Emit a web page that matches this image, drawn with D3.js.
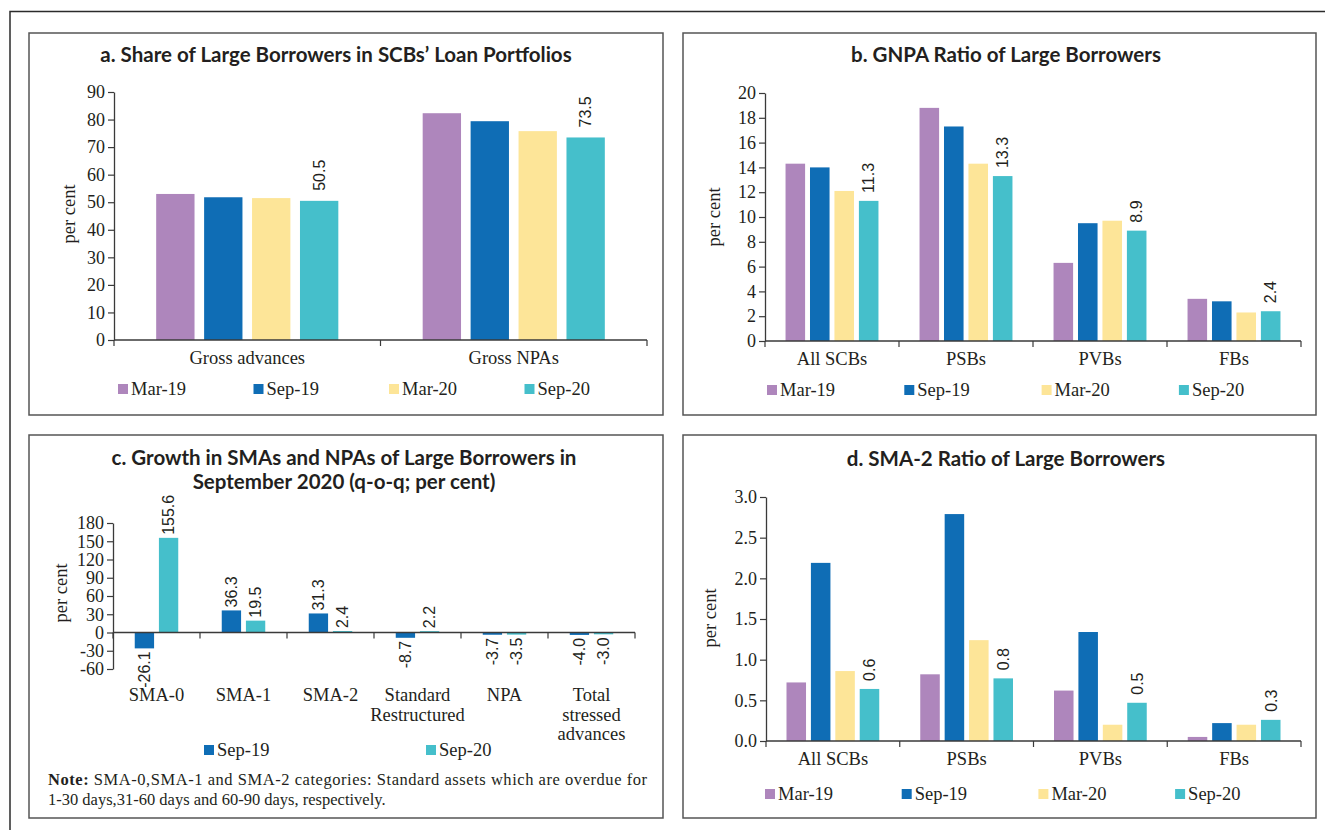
<!DOCTYPE html>
<html>
<head>
<meta charset="utf-8">
<script src="https://cdn.jsdelivr.net/npm/d3@7"></script>
<style>
  body { margin: 0; background: #ffffff; }
  svg { display: block; }
</style>
</head>
<body>
<svg id="chart" width="1325" height="830"></svg>
<script>
// ---- data ----
const seriesNames = ["Mar-19", "Sep-19", "Mar-20", "Sep-20"];

// a. Share of large borrowers in loan portfolios (per cent)
const portfolioCats = ["Gross advances", "Gross NPAs"];
const shareMar19 = [53.0, 82.3];
const shareSep19 = [51.8, 79.4];
const shareMar20 = [51.5, 75.8];
const shareSep20 = [50.5, 73.5];
const shareTicks = [0, 10, 20, 30, 40, 50, 60, 70, 80, 90];

// b. GNPA ratio of large borrowers (per cent)
const bankGroups = ["All SCBs", "PSBs", "PVBs", "FBs"];
const gnpaMar19 = [14.3, 18.8, 6.3, 3.4];
const gnpaSep19 = [14.0, 17.3, 9.5, 3.2];
const gnpaMar20 = [12.1, 14.3, 9.7, 2.3];
const gnpaSep20 = [11.3, 13.3, 8.9, 2.4];
const gnpaTicks = [0, 2, 4, 6, 8, 10, 12, 14, 16, 18, 20];

// c. q-o-q growth in SMAs and NPAs (per cent)
const growthSeries = ["Sep-19", "Sep-20"];
const stressCats = ["SMA-0", "SMA-1", "SMA-2", "Standard Restructured", "NPA", "Total stressed advances"];
const stressCatLines = [["SMA-0"], ["SMA-1"], ["SMA-2"], ["Standard", "Restructured"], ["NPA"], ["Total", "stressed", "advances"]];
const growthSep19 = [-26.1, 36.3, 31.3, -8.7, -3.7, -4.0];
const growthSep20 = [155.6, 19.5, 2.4, 2.2, -3.5, -3.0];
const growthTicks = [-60, -30, 0, 30, 60, 90, 120, 150, 180];

// d. SMA-2 ratio of large borrowers (per cent)
const sma2Mar19 = [0.72, 0.82, 0.62, 0.05];
const sma2Sep19 = [2.19, 2.79, 1.34, 0.22];
const sma2Mar20 = [0.86, 1.24, 0.20, 0.20];
const sma2Sep20 = [0.64, 0.77, 0.47, 0.26];
const sma2Ticks = [0, 0.5, 1.0, 1.5, 2.0, 2.5, 3.0];

const noteLines = ["SMA-0,SMA-1 and SMA-2 categories: Standard assets which are overdue for",
                   "1-30 days,31-60 days and 60-90 days, respectively."];

// ---- styles ----
const colour = d3.scaleOrdinal()
  .domain(seriesNames)
  .range(["#ae86bc", "#0f6db5", "#fde598", "#45bfcb"]);

const SERIF = "'Liberation Serif', 'DejaVu Serif', serif";
const TITLE = "Lato, 'Noto Sans', sans-serif";
const LABEL = "'Liberation Sans Narrow', 'Liberation Sans', sans-serif";
const INK = "#231f20";
const AXIS = "#3a3a3a";

// plain hyphen-minus for negatives
const fmt = spec => { const f = d3.format(spec); return v => f(v).replace("\u2212", "-"); };

const svg = d3.select("#chart");

// outer frame: top and left rules
svg.append("path")
  .attr("d", "M10,830 V11.5 H1325")
  .attr("fill", "none").attr("stroke", "#2b2b2b").attr("stroke-width", 1.5);

function drawPanel(cfg) {
  const g = svg.append("g");

  // panel frame
  g.append("rect")
    .attr("x", cfg.box[0]).attr("y", cfg.box[1])
    .attr("width", cfg.box[2] - cfg.box[0]).attr("height", cfg.box[3] - cfg.box[1])
    .attr("fill", "none").attr("stroke", "#555").attr("stroke-width", 1.5);

  // title
  cfg.title.forEach((t, i) => {
    g.append("text")
      .attr("x", cfg.titleX).attr("y", cfg.titleY + i * 23.5)
      .attr("text-anchor", "middle")
      .attr("font-family", TITLE).attr("font-weight", 700).attr("font-size", 20.5)
      .attr("fill", INK).text(t);
  });

  const [L, T, R, B] = cfg.plot;
  const y = d3.scaleLinear().domain(cfg.yDomain).range([B, T]);
  const x0 = d3.scaleBand().domain(cfg.categories).range([L, R]).padding(0);
  const x1 = d3.scaleBand().domain(cfg.series)
    .range([0, x0.bandwidth()]).paddingInner(cfg.padInner).paddingOuter(cfg.padOuter);

  // bars
  const rows = [];
  cfg.categories.forEach((c, ci) => {
    cfg.series.forEach((s, si) => {
      rows.push({ cat: c, ci, series: s, value: cfg.values[si][ci] });
    });
  });

  g.append("g").selectAll("rect").data(rows).join("rect")
    .attr("x", d => x0(d.cat) + x1(d.series))
    .attr("width", x1.bandwidth())
    .attr("y", d => y(Math.max(0, d.value)))
    .attr("height", d => Math.abs(y(d.value) - y(0)))
    .attr("fill", d => colour(d.series));

  // y axis
  const yAxis = d3.axisLeft(y).tickValues(cfg.yTicks).tickFormat(cfg.tickFmt)
    .tickSize(6).tickSizeOuter(0).tickPadding(3);
  const ya = g.append("g").attr("transform", `translate(${L},0)`).call(yAxis);
  ya.select(".domain").attr("stroke", AXIS).attr("stroke-width", 1.3);
  ya.selectAll(".tick line").attr("stroke", AXIS).attr("stroke-width", 1.2);
  ya.selectAll(".tick text")
    .attr("font-family", SERIF).attr("font-size", 18).attr("fill", INK);

  // x axis at zero with ticks on category boundaries
  const y0 = y(0);
  g.append("line")
    .attr("x1", L).attr("x2", R).attr("y1", y0).attr("y2", y0)
    .attr("stroke", AXIS).attr("stroke-width", 1.5);
  const bounds = cfg.categories.map(c => x0(c)).concat([x0.range()[1]]);
  g.append("g").selectAll("line").data(bounds).join("line")
    .attr("x1", d => d).attr("x2", d => d)
    .attr("y1", y0).attr("y2", y0 + 6)
    .attr("stroke", AXIS).attr("stroke-width", 1.2);

  // category labels
  const catG = g.append("g");
  cfg.categories.forEach((c, ci) => {
    const lines = cfg.catLines ? cfg.catLines[ci] : [c];
    lines.forEach((ln, li) => {
      catG.append("text")
        .attr("x", x0(c) + x0.bandwidth() / 2)
        .attr("y", cfg.catY + li * 19.5)
        .attr("text-anchor", "middle")
        .attr("font-family", SERIF).attr("font-size", 18.5).attr("fill", INK)
        .text(ln);
    });
  });

  // value labels, rotated
  const labelFmt = fmt(".1f");
  const labelled = rows.filter(d => cfg.labelSeries.includes(d.series));
  g.append("g").selectAll("text").data(labelled).join("text")
    .attr("transform", d => {
      const cx = x0(d.cat) + x1(d.series) + x1.bandwidth() / 2;
      const yy = d.value >= 0 ? y(d.value) - cfg.labelGap : y(d.value) + cfg.labelGap;
      return `translate(${cx},${yy}) rotate(-90)`;
    })
    .attr("text-anchor", d => d.value >= 0 ? "start" : "end")
    .attr("dy", "0.36em")
    .attr("font-family", LABEL).attr("font-size", 16).attr("fill", INK)
    .text(d => labelFmt(d.value));

  // y axis title
  g.append("text")
    .attr("transform", `translate(${cfg.perCent[0]},${cfg.perCent[1]}) rotate(-90)`)
    .attr("text-anchor", "middle").attr("dy", "0.3em")
    .attr("font-family", SERIF).attr("font-size", 18.5).attr("fill", INK)
    .text("per cent");

  // legend
  const leg = g.append("g").selectAll("g").data(cfg.series).join("g")
    .attr("transform", (d, i) => `translate(${cfg.legend[0] + i * cfg.legend[2]},${cfg.legend[1]})`);
  leg.append("rect").attr("x", 0).attr("y", -5).attr("width", 10).attr("height", 10)
    .attr("fill", d => colour(d));
  leg.append("text").attr("x", 13).attr("y", 6)
    .attr("font-family", SERIF).attr("font-size", 18.5).attr("fill", INK)
    .text(d => d);
}

drawPanel({
  box: [29, 33, 663, 415],
  title: ["a. Share of Large Borrowers in SCBs\u2019 Loan Portfolios"],
  titleX: 336, titleY: 62,
  plot: [114, 92, 647, 340],
  yDomain: [0, 90], yTicks: shareTicks, tickFmt: fmt("d"),
  categories: portfolioCats, series: seriesNames,
  values: [shareMar19, shareSep19, shareMar20, shareSep20],
  padInner: 0.2, padOuter: 0.88,
  catY: 364, labelSeries: ["Sep-20"], labelGap: 10,
  perCent: [69, 214], legend: [118, 389, 135.5]
});

drawPanel({
  box: [683, 33, 1316, 415],
  title: ["b. GNPA Ratio of Large Borrowers"],
  titleX: 1006, titleY: 62,
  plot: [765, 93, 1301, 341],
  yDomain: [0, 20], yTicks: gnpaTicks, tickFmt: fmt("d"),
  categories: bankGroups, series: seriesNames,
  values: [gnpaMar19, gnpaSep19, gnpaMar20, gnpaSep20],
  padInner: 0.2, padOuter: 0.84,
  catY: 365, labelSeries: ["Sep-20"], labelGap: 8,
  perCent: [714, 217], legend: [767, 390, 137.3]
});

drawPanel({
  box: [29, 435, 663, 818],
  title: ["c. Growth in SMAs and NPAs of Large Borrowers in", "September 2020 (q-o-q; per cent)"],
  titleX: 344, titleY: 465,
  plot: [113, 523, 635, 669],
  yDomain: [-60, 180], yTicks: growthTicks, tickFmt: fmt("d"),
  categories: stressCats, catLines: stressCatLines, series: growthSeries,
  values: [growthSep19, growthSep20],
  padInner: 0.2, padOuter: 0.9,
  catY: 701, labelSeries: growthSeries, labelGap: 3,
  perCent: [61, 593], legend: [204, 750, 222]
});

drawPanel({
  box: [683, 435, 1316, 818],
  title: ["d. SMA-2 Ratio of Large Borrowers"],
  titleX: 1006, titleY: 466,
  plot: [766, 497, 1301, 741],
  yDomain: [0, 3], yTicks: sma2Ticks, tickFmt: fmt(".1f"),
  categories: bankGroups, series: seriesNames,
  values: [sma2Mar19, sma2Sep19, sma2Mar20, sma2Sep20],
  padInner: 0.2, padOuter: 0.84,
  catY: 765, labelSeries: ["Sep-20"], labelGap: 8,
  perCent: [710, 618], legend: [765, 794, 136.7]
});

// note under panel c
const note = svg.append("g").attr("font-family", SERIF).attr("font-size", 16.5).attr("fill", INK);
const n1 = note.append("text").attr("x", 48).attr("y", 785)
  .attr("textLength", 599).attr("lengthAdjust", "spacing");
n1.append("tspan").attr("font-weight", 700).text("Note: ");
n1.append("tspan").text(noteLines[0]);
note.append("text").attr("x", 48).attr("y", 805).text(noteLines[1]);
</script>
</body>
</html>
